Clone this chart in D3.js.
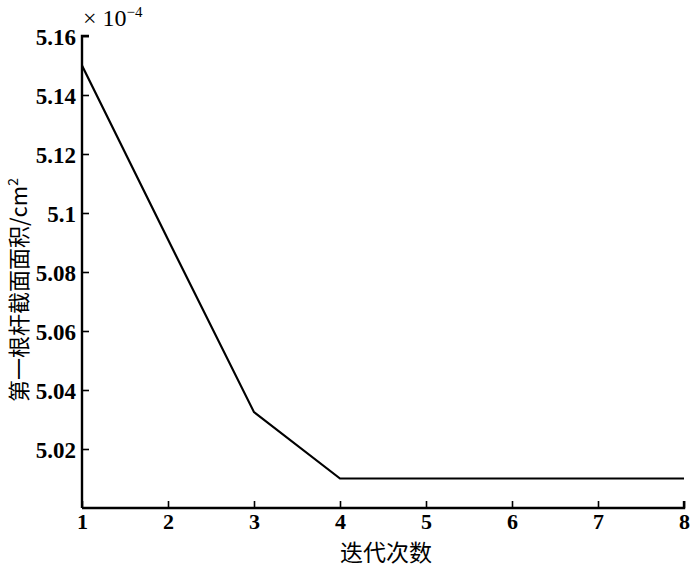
<!DOCTYPE html>
<meta charset="utf-8">
<style>
  body { margin: 0; background: #fff; }
  text { fill: #000; }
</style>
<svg width="700" height="572"></svg>
<script src="https://d3js.org/d3.v7.min.js"></script>
<script>

// iterations and area of bar 1 (x 1e-4 cm^2)
var iterations = [1, 2, 3, 4, 5, 6, 7, 8];
var area = [5.150, 5.091, 5.0325, 5.010, 5.010, 5.010, 5.010, 5.010];
var yTicks = [5.02, 5.04, 5.06, 5.08, 5.10, 5.12, 5.14, 5.16];
var xTicks = [1, 2, 3, 4, 5, 6, 7, 8];

var svg = d3.select("svg");
var mLeft = 82, mRight = 684, mTop = 36, mBottom = 508;

var x = d3.scaleLinear().domain([1, 8]).range([mLeft, mRight]);
var y = d3.scaleLinear().domain([5.00, 5.16]).range([mBottom, mTop]);

var numFont = "'Liberation Serif', 'DejaVu Serif', serif";
var cjkFont = "'Noto Sans CJK SC', sans-serif";

var fmt = function(d) { return String(+d.toFixed(2)); };

var gy = svg.append("g")
  .attr("transform", "translate(" + mLeft + ",0)")
  .call(d3.axisRight(y).tickValues(yTicks).tickSize(7).tickFormat(fmt));
gy.select(".domain").attr("d", "M0," + mBottom + "V" + mTop + "H7").attr("stroke-width", 2.4);
gy.selectAll(".tick line").attr("stroke-width", 1.6);
gy.selectAll(".tick text")
  .attr("x", -6).attr("text-anchor", "end").attr("dy", "0.36em")
  .style("font-family", numFont).style("font-size", "23px").style("font-weight", "bold");

var gx = svg.append("g")
  .attr("transform", "translate(0," + mBottom + ")")
  .call(d3.axisTop(x).tickValues(xTicks).tickSize(7).tickFormat(d3.format("d")));
gx.select(".domain").attr("d", "M" + mLeft + ",0H" + mRight + "V-7").attr("stroke-width", 2.4);
gx.selectAll(".tick line").attr("stroke-width", 1.6);
gx.selectAll(".tick text")
  .attr("y", 21).attr("dy", 0)
  .style("font-family", numFont).style("font-size", "22px").style("font-weight", "bold");

// data line
var line = d3.line()
  .x(function(d, i) { return x(iterations[i]); })
  .y(function(d) { return y(d); });

svg.append("path")
  .datum(area)
  .attr("d", line)
  .attr("fill", "none")
  .attr("stroke", "#000")
  .attr("stroke-width", 2.2);

// exponent
var ex = svg.append("text")
  .attr("x", mLeft + 1).attr("y", 26)
  .style("font-family", numFont).style("font-size", "24px");
ex.append("tspan").text("× 10");
ex.append("tspan").attr("dy", -9).style("font-size", "15px").text("−4");

// axis titles
svg.append("text")
  .attr("x", 386).attr("y", 561)
  .attr("text-anchor", "middle")
  .style("font-family", cjkFont).style("font-size", "23px")
  .text("迭代次数");

var yt = svg.append("text")
  .attr("transform", "translate(27,290) rotate(-90)")
  .attr("text-anchor", "middle")
  .style("font-family", cjkFont).style("font-size", "22px");
yt.append("tspan").text("第一根杆截面面积/cm");
yt.append("tspan").attr("dy", -9).style("font-size", "14px").text("2");

</script>
